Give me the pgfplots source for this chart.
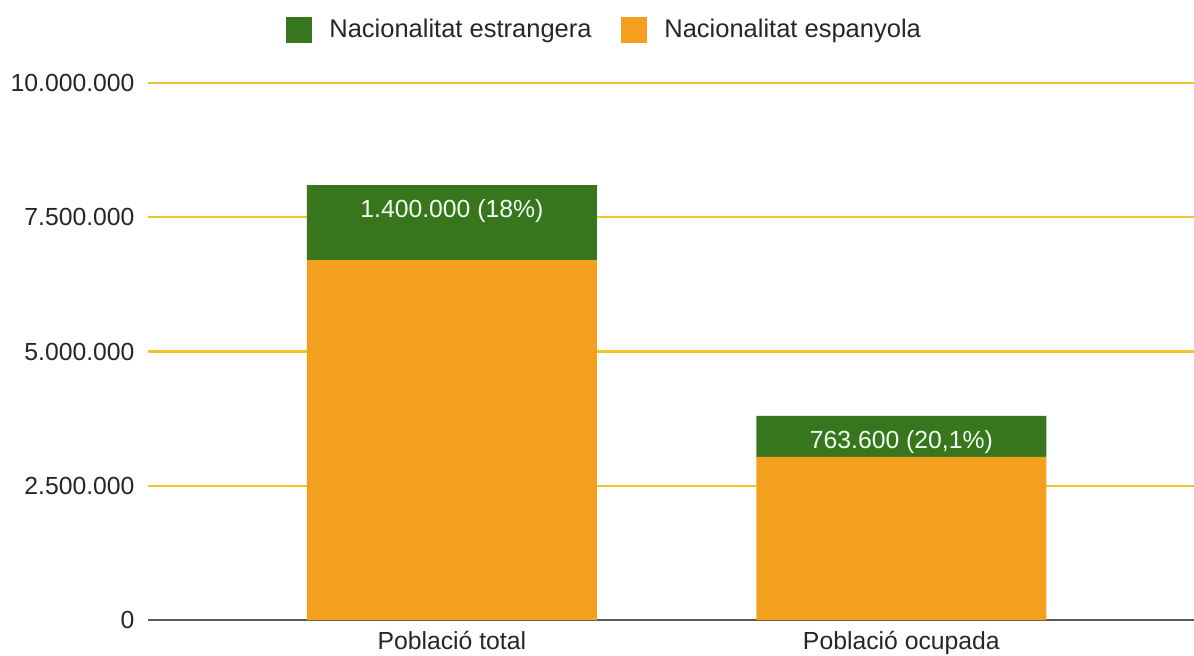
\documentclass[border=0pt]{standalone}
\usepackage{fontspec}
\setmainfont{Liberation Sans}
\usepackage{pgfplots}
\pgfplotsset{compat=1.18}
\definecolor{esp}{RGB}{242,160,30}
\definecolor{estr}{RGB}{56,118,29}
\definecolor{gridc}{RGB}{241,194,50}
\definecolor{zeroc}{RGB}{90,90,90}
\newcommand{\cf}{\fontsize{9.9}{12}\selectfont}
\newcommand{\lf}{\fontsize{10.2}{12}\selectfont}
\pgfplotsset{common/.style={
  at={(0,0)}, anchor=south west,
  scale only axis, width=418.4pt, height=214.8pt,
  xmin=-0.676, xmax=1.651, ymin=0, ymax=10000000,
}}
\begin{document}
\begin{tikzpicture}[x=0.4pt,y=0.4pt]
\useasboundingbox (-148,-35) rectangle (1046,620);
\begin{axis}[
  common,
  ybar stacked, bar width=116pt,
  xtick={0,1}, xticklabels={Població total, Població ocupada},
  ytick={2500000,5000000,7500000,10000000},
  yticklabels={2.500.000, 5.000.000, 7.500.000, 10.000.000},
  extra y ticks={0}, extra y tick labels={0},
  extra y tick style={major grid style={color=zeroc, line width=0.9pt}},
  scaled y ticks=false,
  axis line style={draw=none},
  major tick length=0pt,
  ymajorgrids, major grid style={color=gridc, line width=0.9pt},
  yticklabel style={font=\cf, text=black!85, inner sep=0pt, xshift=-5.2pt},
  xticklabel style={font=\cf, text=black!85, inner sep=0pt, yshift=-4.4pt},
  legend columns=2,
  reverse legend=true,
  legend style={at={(0.438,1.099)}, anchor=center, draw=none, fill=none,
    font=\lf, text=black!85, column sep=0pt,
    /tikz/every odd column/.append style={column sep=4.8pt},
    /tikz/every even column/.append style={column sep=9.9pt}},
  legend image code/.code={\fill[#1] (0pt,-5.1pt) rectangle (10.4pt,5.1pt);},
]
\addplot+[draw=none, fill=esp] coordinates {(0,6700000) (1,3036000)};
\addlegendentry{Nacionalitat espanyola}
\addplot+[draw=none, fill=estr] coordinates {(0,1400000) (1,763600)};
\addlegendentry{Nacionalitat estrangera}
\end{axis}
\begin{axis}[
  common, hide axis,
]
\addplot[draw=none, mark=none,
  point meta=explicit symbolic,
  nodes near coords,
  nodes near coords style={font=\cf, text=white!94!green, anchor=center, yshift=-10.4pt}]
  coordinates {(0,8100000) [1.400.000 (18\%)] (1,3799600) [763.600 (20,1\%)]};
\end{axis}
\end{tikzpicture}
\end{document}
